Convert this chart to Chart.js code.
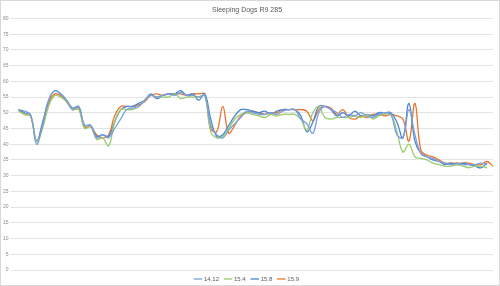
<!DOCTYPE html>
<html>
<head>
<meta charset="utf-8">
<script src="https://cdn.jsdelivr.net/npm/chart.js@4"></script>
<style>
  html, body { margin: 0; padding: 0; background: #fff; }
  #wrap { position: relative; width: 498px; height: 284px; border: 1px solid #d9d9d9; }
</style>
</head>
<body>
<div id="wrap"><canvas id="chart"></canvas></div>
<script>
// Sleeping Dogs R9 285 - frame rate per driver version
let seriesNames = ["14.12", "15.4", "15.8", "15.9"];
let yTicks = [0, 5, 10, 15, 20, 25, 30, 35, 40, 45, 50, 55, 60, 65, 70, 75, 80];

let v1412 = [51, 50.5, 49.5, 40, 46, 54, 57, 56, 54, 51, 52, 46, 46, 42, 43, 42, 45, 48, 51, 51.5,
  52, 54, 55.5, 55, 55.5, 56, 55.5, 56.5, 55.5, 55.5, 55, 55.5, 46, 43, 42, 44.5, 46.5, 48.5, 50.5, 50,
  49.5, 49.5, 50, 49.5, 50.5, 51, 51, 48, 46.5, 43.5, 50, 52, 51, 50, 48.5, 49.5, 49, 50, 49, 48.5,
  49.5, 50, 49.5, 43, 42, 51, 43, 37, 36, 35.5, 34.5, 34, 33.5, 34, 33.5, 33.5, 33.5, 34, 33.5, null];
let v154 = [50.5, 49.5, 49, 41, 45, 52, 55.5, 55, 53.5, 51, 51, 45, 45.5, 41.5, 42, 39.5, 47, 51, 51, 51,
  52, 54, 55.5, 55, 55, 55, 56, 54.5, 55, 55, 55, 55.5, 44, 42, 42.5, 45, 48, 49.5, 50, 49.5,
  49, 48.5, 49.5, 49, 49.5, 49.5, 49.5, 48, 44.5, 50, 52, 48.5, 48, 48.5, 48.5, 48.5, 49, 48.5, 49.5, 48,
  49, 49.5, 49.5, 44, 37.5, 40, 36, 35.5, 35, 34, 33.5, 33, 33, 33.5, 33, 32.5, 33, 33, 32.5, null];
let v158 = [51, 50, 49, 41, 47, 54, 57, 56, 54, 51.5, 52, 46, 46, 42.5, 43, 42.5, 47, 51, 52, 52,
  53, 54, 56, 54.5, 55.5, 56, 56, 57, 55.5, 56, 54, 56, 48, 42.5, 43, 46, 49, 51, 51, 50.5,
  50, 50.5, 49.5, 50.5, 51, 51, 51, 49, 44, 47, 52, 52, 51, 49, 50, 49, 50.5, 49, 49.5, 49,
  50, 50, 50, 47, 42, 53, 41, 37, 36, 35, 34.5, 33.5, 34, 33.5, 34, 33.5, 33, 32.5, 34, null];
let v159 = [51, 49.5, 49, 41, 46, 53, 56, 55.5, 53.5, 51, 51.5, 45.5, 45.5, 43, 42, 43, 49, 52, 52, 52,
  52.5, 53.5, 55.5, 56, 55.5, 56, 56, 56, 55.5, 56, 56, 56, 45, 44, 52, 43.5, 46, 49, 50, 50.5,
  50, 49.5, 50, 50, 51, 51, 51, 51, 50.5, 47.5, 51, 52, 51.5, 49.5, 51, 48.5, 48, 49, 48.5, 49.5,
  49.5, 49, 49.5, 49, 48, 41, 53, 38, 36.5, 36, 35, 34, 34, 34, 34, 34, 33.5, 33.5, 34.5, 33];

let labels = v159.map((v, i) => i + 1);
let colors = ["#7b9fdc", "#9acb6a", "#4a86d4", "#e9742d"];
let values = [v1412, v154, v158, v159];

let datasets = seriesNames.map((name, i) => ({
  label: name,
  data: values[i],
  borderColor: colors[i],
  backgroundColor: colors[i],
  borderWidth: 1.3,
  pointRadius: 0,
  tension: 0.4,
  spanGaps: false
}));

new Chart(document.getElementById("chart"), {
  type: 'line',
  data: { labels: labels, datasets: datasets },
  options: {
    responsive: true,
    maintainAspectRatio: false,
    animation: false,
    layout: { padding: { top: 3, right: 6, bottom: 0, left: 0 } },
    plugins: {
      title: {
        display: true,
        text: 'Sleeping Dogs R9 285',
        color: '#595959',
        font: { family: 'Liberation Sans', size: 7, weight: 'normal' },
        padding: { top: 2, bottom: 4 }
      },
      legend: {
        position: 'bottom',
        maxHeight: 15,
        labels: {
          color: '#595959',
          font: { family: 'Liberation Sans', size: 6 },
          usePointStyle: true,
          pointStyle: 'line',
          boxWidth: 12,
          boxHeight: 6,
          padding: 6
        }
      },
      tooltip: { enabled: false }
    },
    scales: {
      x: {
        display: false
      },
      y: {
        min: 0,
        max: 80,
        afterBuildTicks: scale => { scale.ticks = yTicks.map(v => ({ value: v })); },
        grid: { color: '#e3e3e3', lineWidth: 1 },
        border: { display: false },
        ticks: {
          color: '#8c8c8c',
          font: { family: 'Liberation Sans', size: 5 },
          padding: 2
        }
      }
    }
  }
});
</script>
</body>
</html>
